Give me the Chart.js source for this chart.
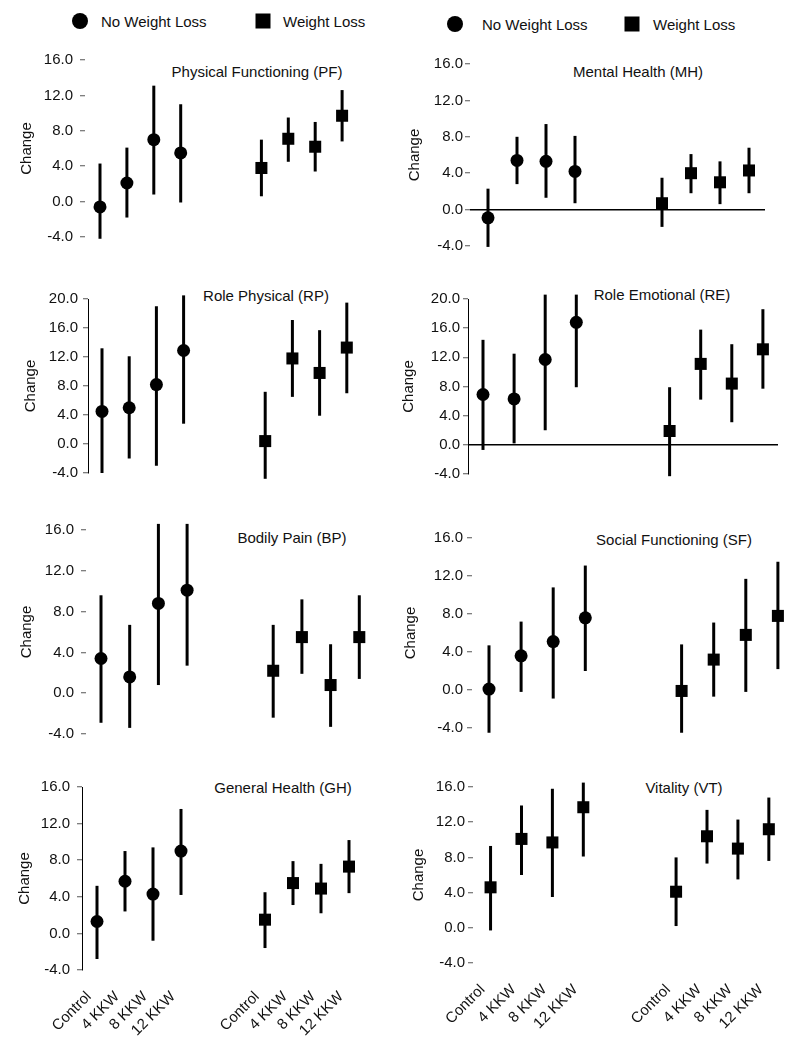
<!DOCTYPE html>
<html><head><meta charset="utf-8">
<script src="https://cdn.jsdelivr.net/npm/chart.js@4.4.0/dist/chart.umd.min.js"></script>
<style>
body{margin:0;background:#fff;width:800px;height:1044px;position:relative;overflow:hidden;font-family:"Liberation Sans",Arial,sans-serif;color:#111}
.p{position:absolute}
.ttl{position:absolute;font-size:15px;white-space:nowrap;transform:translate(-50%,-50%)}
.leg{position:absolute;font-size:15px;white-space:nowrap;transform:translateY(-50%)}
.dot{position:absolute;width:16px;height:16px;border-radius:50%;background:#000;transform:translate(-50%,-50%)}
.sq{position:absolute;width:15px;height:15px;background:#000;transform:translate(-50%,-50%)}
</style></head><body>
<script>
// ---------- DATA ----------
const categories = ['Control', '4 KKW', '8 KKW', '12 KKW'];
const xPositions = [0, 1, 2, 3, 6, 7, 8, 9];
const seriesNames = ['No Weight Loss', 'Weight Loss'];
const panelTitles = ['Physical Functioning (PF)', 'Mental Health (MH)', 'Role Physical (RP)', 'Role Emotional (RE)',
                     'Bodily Pain (BP)', 'Social Functioning (SF)', 'General Health (GH)', 'Vitality (VT)'];
const yAxisTitle = 'Change';

// order: No Weight Loss (Control, 4, 8, 12 KKW), Weight Loss (Control, 4, 8, 12 KKW)
const pfMean = [-0.6, 2.1, 7.0, 5.5, 3.8, 7.1, 6.2, 9.7];
const pfLow  = [-4.2, -1.8, 0.8, -0.1, 0.6, 4.5, 3.4, 6.8];
const pfHigh = [4.3, 6.1, 13.1, 11.0, 7.0, 9.5, 9.0, 12.6];

const mhMean = [-0.9, 5.4, 5.3, 4.2, 0.7, 4.0, 3.0, 4.3];
const mhLow  = [-4.1, 2.8, 1.3, 0.7, -1.9, 1.8, 0.6, 1.8];
const mhHigh = [2.3, 8.0, 9.4, 8.1, 3.5, 6.1, 5.3, 6.8];

const rpMean = [4.5, 5.0, 8.2, 12.9, 0.4, 11.8, 9.8, 13.3];
const rpLow  = [-4.0, -2.0, -3.0, 2.8, -4.8, 6.5, 3.9, 7.0];
const rpHigh = [13.2, 12.1, 19.0, 20.5, 7.2, 17.1, 15.7, 19.5];

const reMean = [6.9, 6.3, 11.7, 16.8, 1.9, 11.1, 8.4, 13.1];
const reLow  = [-0.7, 0.2, 2.0, 7.9, -4.3, 6.2, 3.1, 7.7];
const reHigh = [14.4, 12.5, 20.6, 20.6, 7.9, 15.8, 13.8, 18.6];

const bpMean = [3.4, 1.6, 8.8, 10.1, 2.2, 5.5, 0.8, 5.5];
const bpLow  = [-2.9, -3.4, 0.8, 2.7, -2.4, 1.9, -3.3, 1.4];
const bpHigh = [9.6, 6.7, 16.6, 16.6, 6.7, 9.2, 4.8, 9.6];

const sfMean = [0.1, 3.6, 5.1, 7.6, -0.1, 3.2, 5.8, 7.8];
const sfLow  = [-4.5, -0.2, -0.9, 2.0, -4.5, -0.7, -0.2, 2.2];
const sfHigh = [4.7, 7.2, 10.8, 13.1, 4.8, 7.1, 11.7, 13.5];

const ghMean = [1.3, 5.7, 4.3, 9.0, 1.5, 5.5, 4.9, 7.3];
const ghLow  = [-2.8, 2.4, -0.8, 4.2, -1.6, 3.1, 2.2, 4.4];
const ghHigh = [5.2, 9.0, 9.4, 13.6, 4.5, 7.9, 7.6, 10.2];

const vtMean = [4.6, 10.1, 9.7, 13.7, 4.1, 10.4, 9.0, 11.2];
const vtLow  = [-0.3, 6.0, 3.5, 8.1, 0.2, 7.3, 5.5, 7.6];
const vtHigh = [9.3, 13.9, 15.8, 16.5, 8.0, 13.4, 12.3, 14.8];

const yRange16 = [-4, 16];
const yRange20 = [-4, 20];
const yStep = 4;

// ---------- LAYOUT (page pixels) ----------
const panels = [
  {title:panelTitles[0], mean:pfMean, low:pfLow, high:pfHigh, yr:yRange16, left:0,   L:85,  R:375, top:60,  bot:238, p0:100, d:26.9, tPad:18, tickPad:7, tx:257, ty:71},
  {title:panelTitles[1], mean:mhMean, low:mhLow, high:mhHigh, yr:yRange16, left:400, L:470, R:765, top:64,  bot:246, p0:488, d:29.0, tPad:6,  tickPad:2, tx:638, ty:71, zero:true},
  {title:panelTitles[2], mean:rpMean, low:rpLow, high:rpHigh, yr:yRange20, left:0,   L:88,  R:375, top:299, bot:473, p0:102, d:27.2, tPad:22, tickPad:5, tx:266, ty:295, border:true},
  {title:panelTitles[3], mean:reMean, low:reLow, high:reHigh, yr:yRange20, left:400, L:468, R:778, top:299, bot:474, p0:483, d:31.1, tPad:0,  tickPad:3, tx:662, ty:294, border:true, zero:true},
  {title:panelTitles[4], mean:bpMean, low:bpLow, high:bpHigh, yr:yRange16, left:0,   L:86,  R:375, top:530, bot:735, p0:101, d:28.7, tPad:18, tickPad:7, tx:292, ty:537},
  {title:panelTitles[5], mean:sfMean, low:sfLow, high:sfHigh, yr:yRange16, left:400, L:472, R:790, top:538, bot:728, p0:489, d:32.1, tPad:2,  tickPad:4, tx:674, ty:539},
  {title:panelTitles[6], mean:ghMean, low:ghLow, high:ghHigh, yr:yRange16, left:0,   L:82,  R:375, top:787, bot:970, p0:97,  d:28.0, tPad:16, tickPad:7, tx:283, ty:787, border:true, xLabels:true},
  {title:panelTitles[7], mean:vtMean, low:vtLow, high:vtHigh, yr:yRange16, left:400, L:473, R:790, top:787, bot:963, p0:491, d:31.7, tPad:10, tickPad:3, tx:684, ty:787, xLabels:true, firstSquare:true}
];

// ---------- LEGENDS ----------
function addEl(cls, x, y, text){
  const e = document.createElement('div'); e.className = cls;
  e.style.left = x + 'px'; e.style.top = y + 'px';
  if (text) e.textContent = text;
  document.body.appendChild(e);
}
[[0, 21, 80, 101, 263, 283], [400, 24, 455, 482, 632, 653]].forEach(([ox, y, dx, tx1, sx, tx2]) => {
  addEl('dot', dx, y); addEl('leg', tx1, y, seriesNames[0]);
  addEl('sq', sx, y); addEl('leg', tx2, y, seriesNames[1]);
});

// ---------- PLUGINS ----------
const errorBars = {
  id: 'errorBars',
  beforeDatasetsDraw(chart){
    const {ctx, scales:{x, y}} = chart;
    ctx.save(); ctx.strokeStyle = '#000'; ctx.lineWidth = 3;
    chart.data.datasets.forEach(ds => ds.data.forEach(pt => {
      const px = x.getPixelForValue(pt.x);
      ctx.beginPath();
      ctx.moveTo(px, y.getPixelForValue(pt.lo));
      ctx.lineTo(px, y.getPixelForValue(pt.hi));
      ctx.stroke();
    }));
    ctx.restore();
  }
};

// ---------- CHARTS ----------
panels.forEach(p => {
  addEl('ttl', p.tx, p.ty, p.title);
  const padTop = 20, padBottom = p.xLabels ? 6 : 15, xAxisH = p.xLabels ? 68 : 0;
  const cTop = p.top - padTop;
  const h = (p.bot - p.top) + padTop + xAxisH + padBottom;
  const div = document.createElement('div'); div.className = 'p';
  div.style.left = p.left + 'px'; div.style.top = cTop + 'px';
  const cv = document.createElement('canvas');
  cv.width = 400; cv.height = h; cv.style.width = '400px'; cv.style.height = h + 'px';
  div.appendChild(cv); document.body.appendChild(div);
  const yW = p.L - p.left, padRight = p.left + 400 - p.R;
  const xMin = (p.L - p.p0) / p.d, xMax = (p.R - p.p0) / p.d;
  const mk = i => ({x: xPositions[i], y: p.mean[i], lo: p.low[i], hi: p.high[i]});
  const sets = [
    {label: seriesNames[0], data: [0,1,2,3].map(mk), pointStyle: p.firstSquare ? 'rect' : 'circle', pointRadius: p.firstSquare ? 8.5 : 6.5},
    {label: seriesNames[1], data: [4,5,6,7].map(mk), pointStyle: 'rect', pointRadius: 8.5}
  ].map(s => Object.assign(s, {backgroundColor:'#000', borderColor:'#000', borderWidth:0, clip:false, pointHoverRadius:s.pointRadius}));
  new Chart(cv, {
    type: 'scatter',
    data: {datasets: sets},
    options: {
      responsive: false, animation: false, devicePixelRatio: 1, events: [],
      layout: {padding: {top: padTop, bottom: padBottom, left: 0, right: padRight}},
      plugins: {legend: {display: false}, tooltip: {enabled: false}},
      scales: {
        x: {
          type: 'linear', min: xMin, max: xMax, display: !!p.xLabels,
          grid: {display: false, drawTicks: false}, border: {display: false},
          afterBuildTicks: s => { s.ticks = xPositions.map(v => ({value: v})); },
          afterFit: s => { s.height = xAxisH; },
          ticks: {autoSkip: false, minRotation: 45, maxRotation: 45, padding: 18, labelOffset: -8,
                  font: {size: 15, family: '"Liberation Sans", Arial, sans-serif'}, color: '#111',
                  callback: (v, i) => categories[i % categories.length]}
        },
        y: {
          min: p.yr[0], max: p.yr[1],
          afterFit: s => { s.width = yW; },
          ticks: {stepSize: yStep, padding: p.tickPad, font: {size: 15, family: '"Liberation Sans", Arial, sans-serif'}, color: '#111',
                  callback: v => v.toFixed(1)},
          grid: {drawOnChartArea: !!p.zero, lineWidth: 1.5, tickWidth: 1, tickLength: 5, tickColor: '#555',
                 color: c => (p.zero && c.tick && c.tick.value === 0) ? '#000' : 'rgba(0,0,0,0)'},
          border: {display: !!p.border, color: '#000', width: 1},
          title: {display: true, text: yAxisTitle, color: '#111', font: {size: 15, family: '"Liberation Sans", Arial, sans-serif'},
                  padding: {top: p.tPad, bottom: 0}}
        }
      }
    },
    plugins: [errorBars]
  });
});
</script>
</body></html>
